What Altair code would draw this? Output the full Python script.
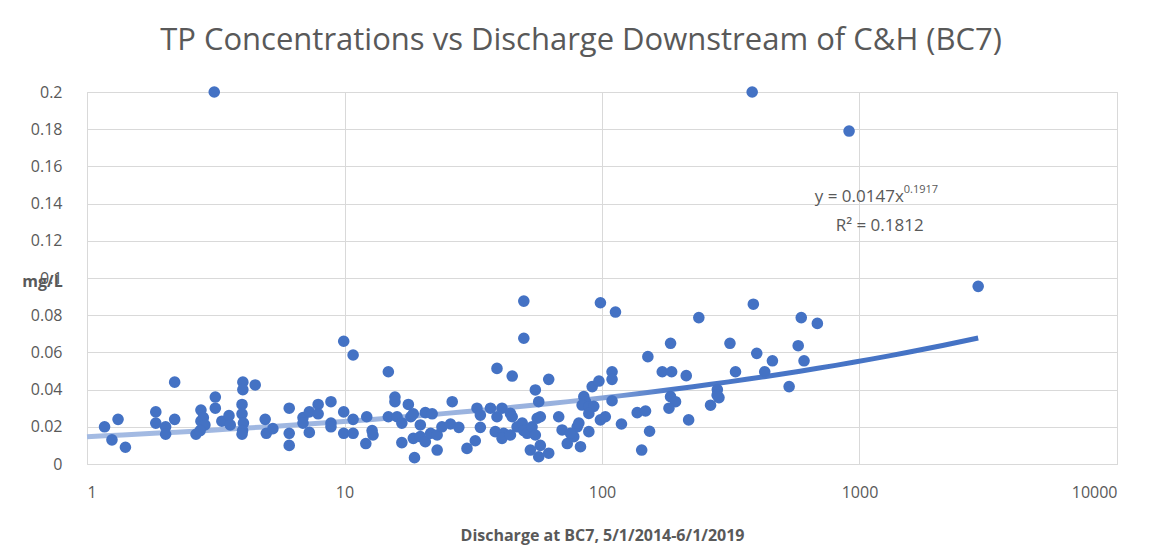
import altair as alt
import pandas as pd

# Discharge (x) and TP concentration in mg/L (y)
discharge = [
    1.17, 1.32, 1.25, 1.41, 1.85, 1.85, 2.02, 2.02, 2.19, 2.19, 2.65, 2.77, 2.77, 2.83, 2.87, 2.75,
    3.15, 3.15, 3.34, 3.56, 3.6, 4.03, 4.03, 4.5, 4.0, 4.0, 4.05, 4.02, 4.0, 4.92, 4.97, 5.27,
    6.1, 6.1, 6.1, 6.9, 6.9, 7.3, 7.3, 7.9, 7.9, 8.86, 8.86, 8.86, 9.93, 9.93, 9.93, 3.12,
    10.8, 14.8, 49.7, 49.7, 98.6, 10.8, 10.8, 12.2, 12.1, 12.8, 12.9, 15.7, 15.7, 14.8, 16.0, 16.7,
    17.7, 18.1, 18.5, 16.7, 18.7, 18.5, 19.7, 19.7, 20.6, 21.9, 20.6, 21.6, 22.9, 22.9, 23.9, 25.8,
    27.8, 26.2, 29.9, 32.2, 32.7, 33.7, 33.7, 36.9, 39.1, 40.9, 38.5, 41.5, 40.9, 44.1, 44.1, 44.8,
    39.1, 44.8, 55.1, 56.8, 62.1, 46.8, 49.0, 49.7, 51.2, 53.5, 56.0, 57.6, 55.1, 52.7, 57.6, 56.8,
    62.1, 67.9, 70.0, 73.3, 77.7, 80.1, 81.3, 82.5, 75.4, 88.9, 85.0, 86.3, 83.7, 88.9, 92.9, 88.9,
    91.6, 97.3, 98.6, 103.0,
    112.8, 237.7, 387, 594, 686, 184.6, 314, 578, 150.7, 399, 459, 609, 109.4, 109.4, 171.4, 186.4,
    212.4, 330, 428.5, 533, 280.5, 284.6, 280, 264, 184.6, 193, 182, 109.4, 119, 137, 147.6, 153,
    142.6, 217,
    911, 2890, 383,
]
tp_mgl = [
    0.020, 0.024, 0.013, 0.009, 0.028, 0.022, 0.020, 0.016, 0.044, 0.024, 0.016, 0.029, 0.023, 0.025, 0.021, 0.018,
    0.036, 0.030, 0.023, 0.026, 0.021, 0.044, 0.040, 0.0425, 0.032, 0.027, 0.022, 0.018, 0.016, 0.024, 0.0165, 0.019,
    0.030, 0.0165, 0.010, 0.025, 0.022, 0.028, 0.017, 0.032, 0.027, 0.0335, 0.022, 0.020, 0.066, 0.028, 0.0165, 0.200,
    0.0586, 0.0496, 0.0876, 0.0676, 0.0867, 0.024, 0.0165, 0.0254, 0.011, 0.018, 0.0156, 0.036, 0.0335, 0.0254, 0.0254, 0.022,
    0.032, 0.0254, 0.027, 0.0115, 0.0034, 0.0138, 0.0147, 0.021, 0.0276, 0.027, 0.012, 0.0165, 0.0075, 0.0156, 0.020, 0.0215,
    0.0197, 0.0335, 0.0084, 0.0125, 0.030, 0.0263, 0.0197, 0.030, 0.0254, 0.030, 0.0174, 0.0165, 0.0138, 0.0156, 0.0272, 0.0254,
    0.0514, 0.0473, 0.0398, 0.0335, 0.0455, 0.020, 0.022, 0.018, 0.0165, 0.020, 0.0246, 0.0254, 0.0156, 0.0075, 0.010, 0.0039,
    0.0058, 0.0254, 0.0183, 0.011, 0.0147, 0.020, 0.022, 0.0093, 0.0165, 0.0174, 0.0362, 0.0335, 0.0317, 0.0308, 0.031, 0.0272,
    0.0416, 0.0446, 0.0237, 0.0254,
    0.0817, 0.0787, 0.0859, 0.0787, 0.0756, 0.0649, 0.0649, 0.0636, 0.0577, 0.0595, 0.0555, 0.0555, 0.0496, 0.0455, 0.0496, 0.0496,
    0.0475, 0.0496, 0.0496, 0.0416, 0.040, 0.0357, 0.037, 0.0316, 0.0362, 0.0335, 0.030, 0.034, 0.0215, 0.0276, 0.0285, 0.0176,
    0.0075, 0.0237,
    0.179, 0.0955, 0.200,
]

# Power trendline shown on the chart: y = 0.0147 x^0.1917
trend_a = 0.0147
trend_b = 0.1917
trend_xmin = 1.0
trend_xmax = 2890.0

x_ticks = [1, 10, 100, 1000, 10000]
y_ticks = [0, 0.02, 0.04, 0.06, 0.08, 0.1, 0.12, 0.14, 0.16, 0.18, 0.2]

ann_main = ["y = 0.0147x"]
ann_main_x = [1486]
ann_main_y = [0.1435]
ann_sup = ["0.1917"]
ann_sup_x = [1486]
ann_sup_y = [0.1475]
ann_r2 = ["R² = 0.1812"]
ann_r2_x = [808]
ann_r2_y = [0.128]

GRAY = "#595959"
BLUE = "#4472C4"
FONT = "Open Sans"

pts = pd.DataFrame({"x": discharge, "y": tp_mgl})

x_enc = alt.X(
    "x:Q", scale=alt.Scale(type="log", domain=[1, 10000]),
    axis=alt.Axis(
        values=x_ticks, format="d", title="Discharge at BC7, 5/1/2014-6/1/2019",
        grid=True, gridColor="#d9d9d9", domain=True, domainColor="#d9d9d9", ticks=False,
        labelPadding=20, labelFontSize=16, labelColor=GRAY, labelFont=FONT,
        titleFontSize=16, titleFont=FONT, titleColor=GRAY, titleFontWeight="bold",
        titleY=71, titleBaseline="middle",
    ),
)
y_enc = alt.Y(
    "y:Q", scale=alt.Scale(domain=[0, 0.2]),
    axis=alt.Axis(
        values=y_ticks, labelExpr="format(datum.value, '.2~f')", title="mg/L",
        labelOverlap=False,
        grid=True, gridColor="#d9d9d9", domain=False, ticks=False,
        labelPadding=25, labelFontSize=16, labelColor=GRAY, labelFont=FONT,
        titleFontSize=16, titleFont=FONT, titleColor=GRAY, titleFontWeight="bold",
        titleAngle=0, titleX=-45, titleY=189, titleAlign="center", titleBaseline="middle",
    ),
)

points = alt.Chart(pts).mark_circle(size=135, color=BLUE, opacity=1, clip=False)

trend = (
    alt.Chart(alt.sequence(0, 1.0001, 0.02, as_="t"))
    .transform_calculate(
        x=f"pow(10, log({trend_xmin})/LN10 + datum.t * (log({trend_xmax}) - log({trend_xmin}))/LN10)"
    )
    .transform_calculate(y=f"{trend_a} * pow(datum.x, {trend_b})")
    .mark_line(
        strokeWidth=5,
        stroke=alt.Gradient(
            gradient="linear",
            stops=[
                alt.GradientStop(color="#a4bbe3", offset=0),
                alt.GradientStop(color="#98b1de", offset=0.55),
                alt.GradientStop(color="#4a77c7", offset=0.66),
                alt.GradientStop(color=BLUE, offset=1),
            ],
            x1=0, x2=1, y1=0, y2=0,
        ),
    )
    .encode(order="t:Q")
)

def text_layer(texts, xs, ys, size, align):
    df = pd.DataFrame({"label": texts, "x": xs, "y": ys})
    return alt.Chart(df).mark_text(
        fontSize=size, color=GRAY, font=FONT, align=align, baseline="middle"
    ).encode(text="label:N")

ann1 = text_layer(ann_main, ann_main_x, ann_main_y, 17, "right")
ann2 = text_layer(ann_sup, ann_sup_x, ann_sup_y, 11, "left")
ann3 = text_layer(ann_r2, ann_r2_x, ann_r2_y, 17, "left")

chart = (
    alt.layer(trend, points, ann1, ann2, ann3)
    .encode(x=x_enc, y=y_enc)
    .properties(
        width=1030, height=372,
        title=alt.TitleParams(
            text="TP Concentrations vs Discharge Downstream of C&H (BC7)",
            fontSize=31, font=FONT, color=GRAY, fontWeight="normal",
            anchor="middle", dx=-21, offset=27,
        ),
        autosize=alt.AutoSizeParams(type="none"),
        padding={"left": 79, "top": 84, "right": 38, "bottom": 86},
        background="white",
    )
    .configure_view(stroke="#d9d9d9")
)

chart.save("out.html", embed_options={"renderer": "svg", "actions": False})
